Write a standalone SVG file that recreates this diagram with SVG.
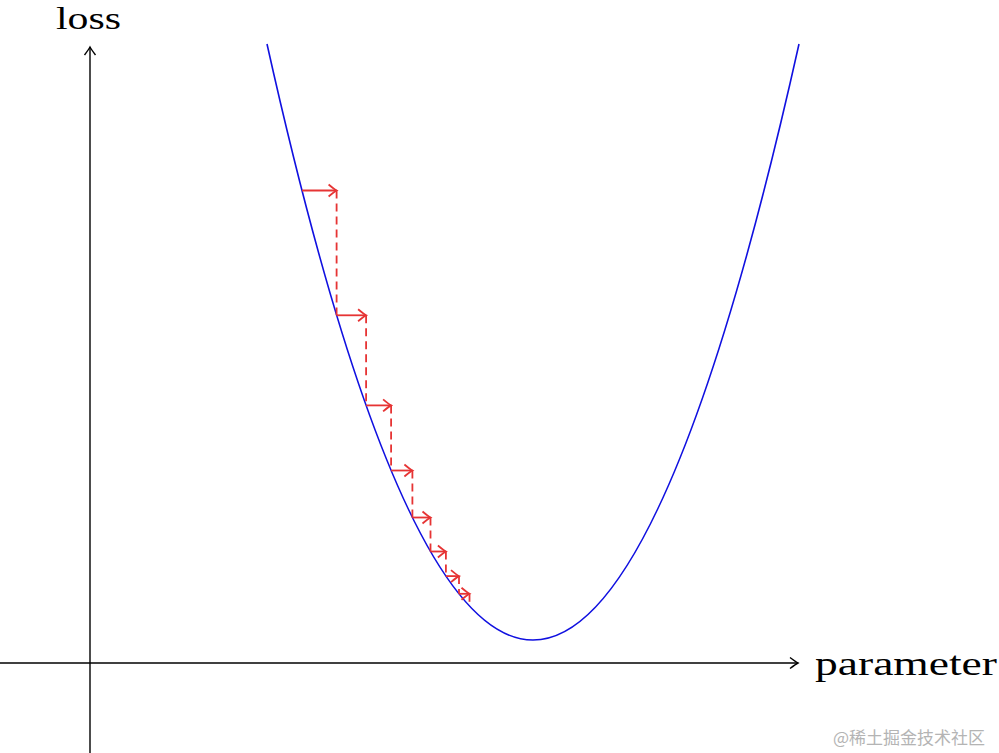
<svg xmlns="http://www.w3.org/2000/svg" width="999" height="753" viewBox="0 0 999 753">
<style>
.axis{stroke:#000;stroke-width:1.4;fill:none}
.curve{stroke:#1010e0;stroke-width:1.6;fill:none}
.step{stroke:#e63434;stroke-width:1.8;fill:none}
.drop{stroke:#e63434;stroke-width:1.8;fill:none;stroke-dasharray:8 5}
.lbl{font-family:"Liberation Serif","DejaVu Serif",serif;fill:#000}
.wm{font-family:"Noto Sans CJK SC",sans-serif;fill:#b4b4b4;font-size:17px}
</style>
<defs>
<marker id="rh" viewBox="-10 -7 12 14" refX="0" refY="0" markerWidth="12" markerHeight="14" markerUnits="userSpaceOnUse" orient="auto" overflow="visible">
<path d="M-8,-6 Q-2,-1 0,0 Q-2,1 -8,6" fill="none" stroke="#e63434" stroke-width="1.8"/>
</marker>
<marker id="kh" viewBox="-10 -7 12 14" refX="0" refY="0" markerWidth="12" markerHeight="14" markerUnits="userSpaceOnUse" orient="auto" overflow="visible">
<path d="M-8,-5.5 Q-2,-1 0,0 Q-2,1 -8,5.5" fill="none" stroke="#000" stroke-width="1.4"/>
</marker>
</defs>
<g id="axes">
<line class="axis" x1="0" y1="663" x2="798" y2="663" marker-end="url(#kh)"/>
<line class="axis" x1="90" y1="753" x2="90" y2="47" marker-end="url(#kh)"/>
</g>
<g id="labels">
<text class="lbl" x="56" y="29" font-size="32" textLength="65" lengthAdjust="spacingAndGlyphs">loss</text>
<text class="lbl" x="815" y="675" font-size="34" textLength="182" lengthAdjust="spacingAndGlyphs">parameter</text>
</g>
<g id="loss-curve">
<path class="curve" d="M267,44 Q533,1236 799,44"/>
</g>
<g id="connectors">
<line class="step" x1="302" y1="190.5" x2="336.6" y2="190.5" marker-end="url(#rh)"/>
<line class="drop" x1="336.6" y1="190.5" x2="336.6" y2="315.3"/>
<line class="step" x1="336.6" y1="315.3" x2="366.1" y2="315.3" marker-end="url(#rh)"/>
<line class="drop" x1="366.1" y1="315.3" x2="366.1" y2="405.4"/>
<line class="step" x1="366.1" y1="405.4" x2="391.1" y2="405.4" marker-end="url(#rh)"/>
<line class="drop" x1="391.1" y1="405.4" x2="391.1" y2="470.5"/>
<line class="step" x1="391.1" y1="470.5" x2="412.4" y2="470.5" marker-end="url(#rh)"/>
<line class="drop" x1="412.4" y1="470.5" x2="412.4" y2="517.5"/>
<line class="step" x1="412.4" y1="517.5" x2="430.5" y2="517.5" marker-end="url(#rh)"/>
<line class="drop" x1="430.5" y1="517.5" x2="430.5" y2="551.5"/>
<line class="step" x1="430.5" y1="551.5" x2="445.9" y2="551.5" marker-end="url(#rh)"/>
<line class="drop" x1="445.9" y1="551.5" x2="445.9" y2="576.1"/>
<line class="step" x1="445.9" y1="576.1" x2="459" y2="576.1" marker-end="url(#rh)"/>
<line class="drop" x1="459" y1="576.1" x2="459" y2="593.8"/>
<line class="step" x1="459" y1="593.8" x2="469.5" y2="593.8" marker-end="url(#rh)"/>
<line class="drop" x1="469.5" y1="593.8" x2="469.5" y2="606.5"/>
</g>
<text class="wm" x="833" y="744">@稀土掘金技术社区</text>
</svg>
